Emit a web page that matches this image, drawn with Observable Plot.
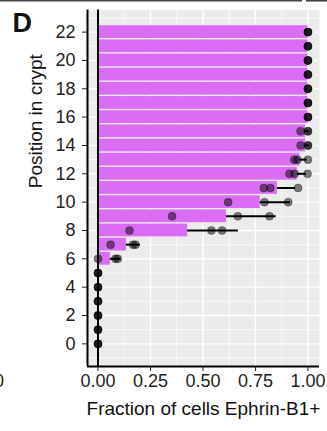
<!DOCTYPE html>
<html><head><meta charset="utf-8">
<script src="https://cdn.jsdelivr.net/npm/d3@7"></script>
<script src="https://cdn.jsdelivr.net/npm/@observablehq/plot@0.6"></script>
<style>
html,body{margin:0;padding:0;background:#fff;}
#wrap{position:relative;width:327px;height:431px;overflow:hidden;font-family:"Liberation Sans",Arial,sans-serif;}
#chart svg{display:block;}
#deco{position:absolute;left:0;top:0;pointer-events:none;}
</style></head><body>
<div id="wrap"><div id="chart"></div>
<svg id="deco" width="327" height="431">
  <line x1="0" y1="0.8" x2="302" y2="0.8" stroke="#444" stroke-width="1.6"/>
  <line x1="306" y1="0.8" x2="327" y2="0.8" stroke="#444" stroke-width="1.6"/>
  <text x="12.5" y="31.5" font-family="Liberation Sans, Arial, sans-serif" font-weight="bold" font-size="27" fill="#111">D</text>
  <text x="4" y="386.5" text-anchor="end" font-family="Liberation Sans, Arial, sans-serif" font-size="18" fill="#222">0</text>
</svg>
</div>
<script>
// Crypt positions (y categories)
const positions = [0,1,2,3,4,5,6,7,8,9,10,11,12,13,14,15,16,17,18,19,20,21,22];
// Replicate fractions of Ephrin-B1+ cells per position
const rep1 = [0,0,0,0,0,0, 0.000,0.060,0.150,0.353,0.620,0.790,0.912,0.935,0.965,0.965,1,1,1,1,1,1,1];
const rep2 = [0,0,0,0,0,0, 0.083,0.167,0.540,0.666,0.793,0.821,0.937,0.950,1.000,1.000,1,1,1,1,1,1,1];
const rep3 = [0,0,0,0,0,0, 0.094,0.179,0.591,0.817,0.906,0.953,0.998,1.000,1.000,1.000,1,1,1,1,1,1,1];
// Axis ticks
const xTicks = [0,0.25,0.5,0.75,1];
const xTickLabels = ["0.00","0.25","0.50","0.75","1.00"];
const xMinor = [0.125,0.375,0.625,0.875];
const yTicks = [0,2,4,6,8,10,12,14,16,18,20,22];
const yMinor = [-1,1,3,5,7,9,11,13,15,17,19,21,23];
const xTitle = "Fraction of cells Ephrin-B1+";
const yTitle = "Position in crypt";

const summary = positions.map((p,i)=>{
  const v=[rep1[i],rep2[i],rep3[i]];
  const m=d3.mean(v); const s=d3.deviation(v)||0;
  return {pos:p, mean:m, lo:m-s, hi:m+s};
});
const points = positions.flatMap((p,i)=>[rep1[i],rep2[i],rep3[i]].map(v=>({pos:p,value:v})));
const barData = summary.filter(d=>d.mean>0);

const chart = Plot.plot({
  width:327, height:431,
  marginLeft:87, marginRight:8, marginTop:9.5, marginBottom:65,
  style:{fontFamily:"Liberation Sans, Arial, sans-serif", fontSize:"18px", color:"#222", background:"transparent", overflow:"visible"},
  x:{domain:[-0.05,1.055], ticks:xTicks, tickFormat:(d)=>xTickLabels[xTicks.indexOf(d)], tickSize:5, tickPadding:3, label:null},
  y:{domain:[-1.6,23.56], ticks:yTicks, tickSize:5, tickPadding:7, label:null},
  marks:[
    Plot.frame({fill:"#EBEBEB", stroke:null}),
    Plot.ruleX(xMinor,{stroke:"white",strokeWidth:0.7}),
    Plot.ruleY(yMinor,{stroke:"white",strokeWidth:0.7}),
    Plot.ruleX(xTicks,{stroke:"white",strokeWidth:1.4}),
    Plot.ruleY(yTicks,{stroke:"white",strokeWidth:1.4}),
    Plot.ruleY(summary,{y:"pos",x1:"lo",x2:"hi",stroke:"black",strokeWidth:2}),
    Plot.rect(barData,{x1:0,x2:"mean",y1:d=>d.pos-0.45,y2:d=>d.pos+0.45,fill:"#DA6CF5"}),
    Plot.ruleX([0],{stroke:"black",strokeWidth:2}),
    Plot.dot(points,{x:"value",y:"pos",r:4,fill:"black",fillOpacity:0.5,stroke:"black",strokeOpacity:0.35,strokeWidth:0.8}),
    Plot.ruleX([-0.05],{stroke:"black",strokeWidth:2}),
    Plot.ruleY([-1.6],{stroke:"black",strokeWidth:2}),
    Plot.text([xTitle],{text:d=>d,frameAnchor:"bottom",dy:48,fontSize:19,fill:"#111"}),
    Plot.text([yTitle],{text:d=>d,frameAnchor:"left",rotate:-90,dx:-51.5,fontSize:19,fill:"#111"})
  ]
});
document.getElementById("chart").appendChild(chart);
</script>
</body></html>
